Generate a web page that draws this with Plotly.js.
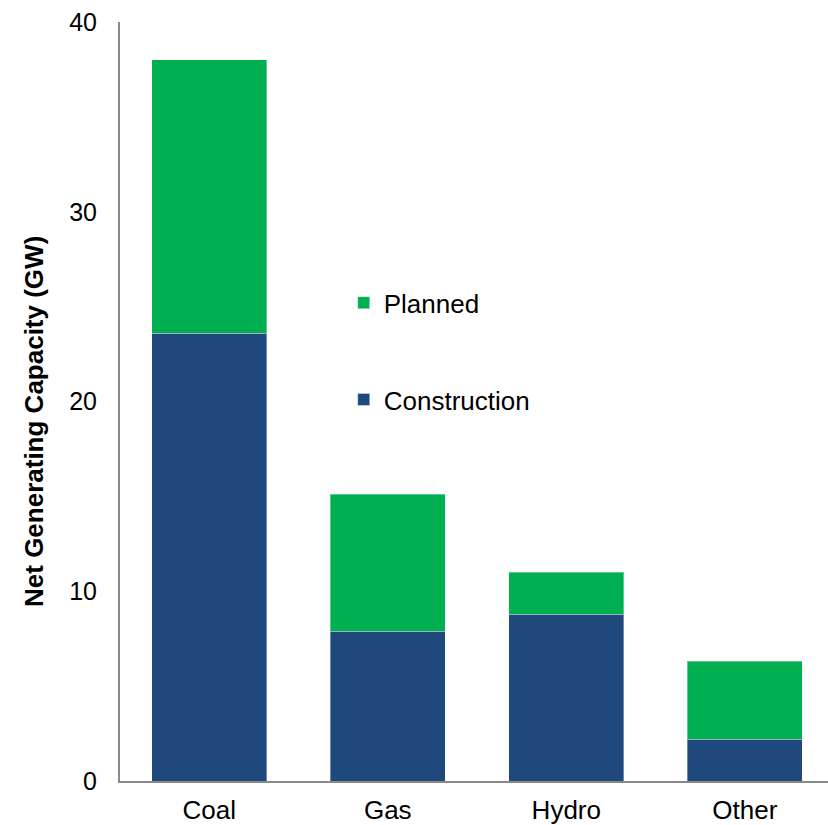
<!DOCTYPE html>
<html>
<head>
<meta charset="utf-8">
<script src="https://cdn.plot.ly/plotly-3.0.1.min.js"></script>
<style>
  html, body { margin: 0; padding: 0; background: #ffffff; }
  #chart { width: 828px; height: 825px; }
</style>
</head>
<body>
<div id="chart"></div>
<script>
// Net generating capacity by fuel type (GW)
const categories = ['Coal', 'Gas', 'Hydro', 'Other'];
const construction = [23.6, 7.9, 8.8, 2.2];
const planned = [14.4, 7.2, 2.2, 4.1];
const yTicks = [0, 10, 20, 30, 40];
const yTitle = 'Net Generating Capacity (GW)';

const blue = '#1F497D';
const green = '#00B050';

const traces = [
  {
    type: 'bar',
    name: 'Construction',
    x: categories,
    y: construction,
    width: 0.645,
    legendgroup: 'c',
    legendrank: 2,
    marker: { color: blue, line: { color: 'rgba(255,255,255,0.35)', width: 1 } },
    hoverinfo: 'x+y+name'
  },
  {
    type: 'bar',
    name: 'Planned',
    x: categories,
    y: planned,
    width: 0.645,
    legendgroup: 'p',
    legendrank: 1,
    marker: { color: green, line: { color: 'rgba(255,255,255,0.35)', width: 1 } },
    hoverinfo: 'x+y+name'
  }
];

const layout = {
  width: 828,
  height: 825,
  barmode: 'stack',
  paper_bgcolor: '#ffffff',
  plot_bgcolor: '#ffffff',
  margin: { l: 120, r: 0, t: 22, b: 44 },
  font: { family: 'Liberation Sans, Arial, sans-serif', size: 26, color: '#000000' },
  showlegend: true,
  legend: {
    x: 0.316,
    y: 0.661,
    xanchor: 'left',
    yanchor: 'top',
    traceorder: 'grouped',
    tracegroupgap: 60,
    itemwidth: 30,
    font: { size: 26, color: '#000000' },
    bgcolor: 'rgba(0,0,0,0)'
  },
  xaxis: {
    type: 'category',
    range: [-0.5, 3.466],
    showline: true,
    linecolor: '#898989',
    linewidth: 2,
    showgrid: false,
    zeroline: false,
    ticks: 'outside',
    ticklen: 5,
    tickcolor: 'rgba(0,0,0,0)',
    tickfont: { size: 26 },
    fixedrange: true
  },
  yaxis: {
    range: [0, 40],
    tickvals: yTicks,
    ticktext: yTicks.map(String),
    showline: true,
    linecolor: '#898989',
    linewidth: 2,
    showgrid: false,
    zeroline: false,
    ticks: 'outside',
    ticklen: 16,
    tickcolor: 'rgba(0,0,0,0)',
    tickfont: { size: 25 },
    automargin: false,
    fixedrange: true
  },
  annotations: [
    {
      text: '<b>' + yTitle + '</b>',
      xref: 'paper',
      yref: 'paper',
      x: -0.1215,
      y: 0.4743,
      xanchor: 'center',
      yanchor: 'middle',
      textangle: -90,
      showarrow: false,
      font: { size: 26, color: '#000000' }
    }
  ]
};

Plotly.newPlot('chart', traces, layout, { displayModeBar: false, staticPlot: true });
</script>
</body>
</html>
